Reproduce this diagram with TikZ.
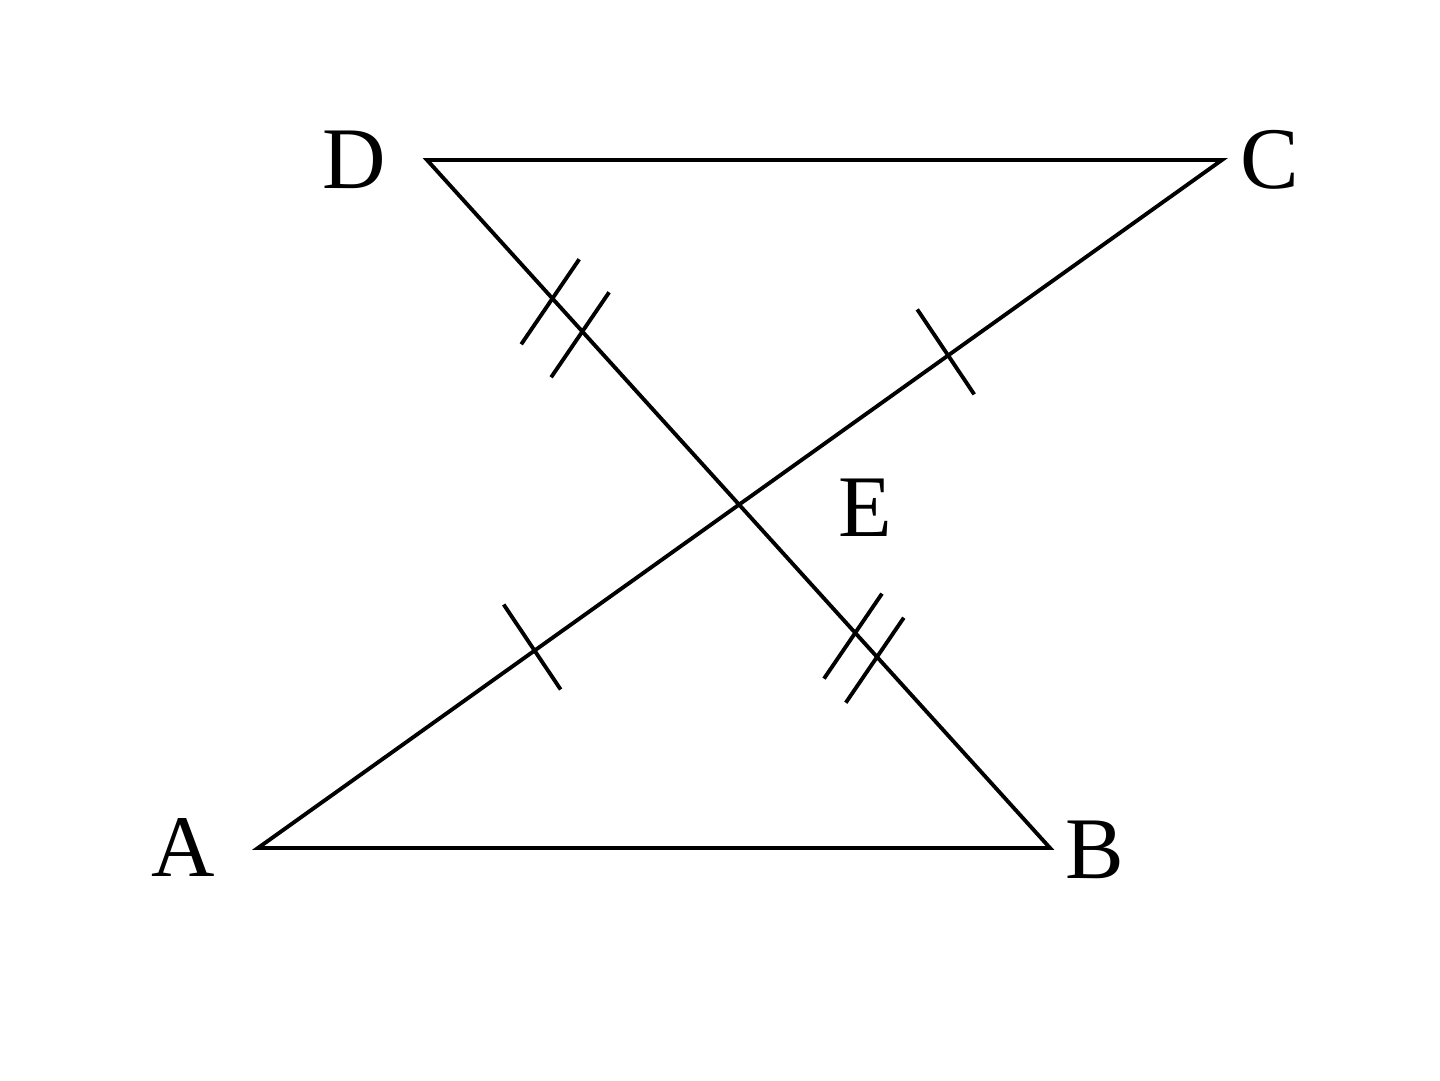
\documentclass[tikz,border=0pt]{standalone}
\usepackage{fontspec}
\setmainfont{Liberation Serif}
\usetikzlibrary{calc}

\begin{document}
\begin{tikzpicture}[every node/.style={black,inner sep=0pt,font=\fontsize{25}{30}\selectfont},
	side/.style={line width=1.1pt},
	tick/.style={line width=1.1pt}]
	\useasboundingbox (0,0) rectangle (14.4,10.81);
%	vertices
	\coordinate (A) at (2.58,2.33);
	\coordinate (B) at (10.50,2.33);
	\coordinate (C) at (12.22,9.21);
	\coordinate (D) at (4.27,9.21);

	\node (lA) at (1.83,2.33) {A};
	\node (lB) at (10.95,2.31) {B};
	\node (lC) at (12.70,9.21) {C};
	\node (lD) at (3.54,9.21) {D};
	\node (lE) at (8.65,5.73) {E};

	\draw[side] (D) -- (C) -- (A) -- (B) -- (D) -- cycle;

%	AE = EC
	\foreach \t in {0.287,0.716}
		\draw[tick] ($($(A)!\t!(C)$)+(-0.31,0.46)$) -- ($($(A)!\t!(C)$)+(0.26,-0.39)$);
%	DE = EB
	\foreach \s in {0.201,0.249,0.687,0.722}
		\draw[tick] ($($(D)!\s!(B)$)+(0.27,0.39)$) -- ($($(D)!\s!(B)$)+(-0.31,-0.46)$);
\end{tikzpicture}
\end{document}
